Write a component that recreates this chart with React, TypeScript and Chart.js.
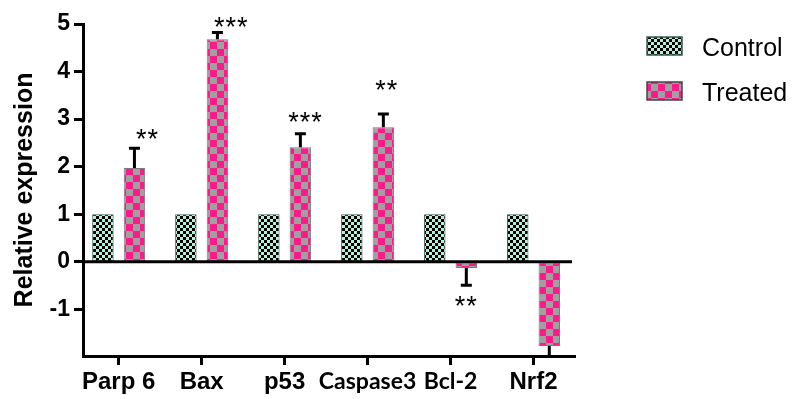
import React, { useEffect, useRef } from "react";
import { Chart, registerables } from "chart.js";

Chart.register(...registerables);

const categories = ["Parp 6", "Bax", "p53", "Caspase3", "Bcl-2", "Nrf2"];
const controlValues = [1, 1, 1, 1, 1, 1];
const treatedValues = [1.97, 4.68, 2.41, 2.83, -0.13, -1.77];
const treatedErrors = [0.42, 0.14, 0.28, 0.28, 0.36, 0.3];
const significance = ["**", "***", "***", "**", "**", ""];
const sigX = [0.34, 1.35, 2.245, 3.226, 4.184, 5];
const sigY = [2.72, 5.08, 3.07, 3.75, -0.78, 0];
const yTicks = [-1, 0, 1, 2, 3, 4, 5];
const legendLabels = ["Control", "Treated"];
const narrowLabels = ["Caspase3", "Bcl-2"];

function makePattern(cell: number, bg: string, fg: string): CanvasPattern {
  const c = document.createElement("canvas");
  c.width = cell * 2;
  c.height = cell * 2;
  const g = c.getContext("2d")!;
  g.fillStyle = bg;
  g.fillRect(0, 0, cell * 2, cell * 2);
  g.fillStyle = fg;
  g.fillRect(0, 0, cell, cell);
  g.fillRect(cell, cell, cell, cell);
  return g.createPattern(c, "repeat")!;
}

export default function App() {
  const ref = useRef<HTMLCanvasElement>(null);
  useEffect(() => {
    const canvas = ref.current!;
    const controlPattern = makePattern(3, "#b2f2dc", "#000000");
    const treatedPattern = makePattern(7, "#a0a0a0", "#ff1a8c");
    const controlBorder = "#3c5a4c";
    const treatedBorder = "#7a7a7a";

    const overlay = {
      id: "overlay",
      afterDatasetsDraw(chart: any) {
        const { ctx, chartArea } = chart;
        const xs = chart.scales.x;
        const ys = chart.scales.y;
        const meta = chart.getDatasetMeta(1);
        // zero line
        ctx.save();
        ctx.strokeStyle = "#000";
        ctx.lineWidth = 3;
        const y0 = ys.getPixelForValue(0);
        ctx.beginPath();
        ctx.moveTo(chartArea.left, y0);
        ctx.lineTo(chartArea.right - 3, y0);
        ctx.stroke();
        ctx.restore();
        // error bars
        ctx.save();
        ctx.beginPath();
        ctx.rect(chartArea.left, chartArea.top - 20, chartArea.right - chartArea.left, chartArea.bottom - chartArea.top + 20);
        ctx.clip();
        ctx.strokeStyle = "#000";
        ctx.lineWidth = 3;
        treatedValues.forEach((v, i) => {
          const bar = meta.data[i];
          const cx = bar.x;
          const end = v >= 0 ? v + treatedErrors[i] : v - treatedErrors[i];
          const p0 = ys.getPixelForValue(v);
          const p1 = ys.getPixelForValue(end);
          ctx.beginPath();
          ctx.moveTo(cx, p0);
          ctx.lineTo(cx, p1);
          ctx.moveTo(cx - 5.5, p1);
          ctx.lineTo(cx + 5.5, p1);
          ctx.stroke();
        });
        ctx.restore();
        // significance stars
        ctx.save();
        const size = 27;
        ctx.font = `${size}px "Liberation Sans"`;
        ctx.fillStyle = "#000";
        ctx.textAlign = "center";
        ctx.textBaseline = "alphabetic";
        significance.forEach((s, i) => {
          if (!s) return;
          const cx = xs.getPixelForValue(sigX[i]);
          const cy = ys.getPixelForValue(sigY[i]) + 0.58 * size;
          const n = s.length;
          for (let j = 0; j < n; j++) {
            ctx.fillText(s[j], cx + (j - (n - 1) / 2) * 11.5, cy);
          }
        });
        ctx.restore();
      },
      afterDraw(chart: any) {
        const { ctx } = chart;
        ctx.save();
        const items = [
          { label: legendLabels[0], fill: controlPattern, border: controlBorder, y: 37 },
          { label: legendLabels[1], fill: treatedPattern, border: "#444", y: 82 },
        ];
        ctx.font = `25px "Liberation Sans"`;
        ctx.textBaseline = "alphabetic";
        ctx.textAlign = "left";
        items.forEach((it) => {
          ctx.fillStyle = it.fill;
          ctx.fillRect(647, it.y, 35, 18);
          ctx.strokeStyle = it.border;
          ctx.lineWidth = 1.5;
          ctx.strokeRect(647, it.y, 35, 18);
          ctx.fillStyle = "#000";
          ctx.fillText(it.label, 702, it.y + 19);
        });
        ctx.restore();
      },
    };

    const chart = new Chart(canvas, {
      type: "bar",
      data: {
        datasets: [
          {
            label: legendLabels[0],
            data: controlValues.map((v, i) => ({ x: i, y: v })),
            backgroundColor: controlPattern,
            borderColor: controlBorder,
            borderWidth: 1,
            borderSkipped: false,
            categoryPercentage: 0.76,
            barPercentage: 0.68,
          },
          {
            label: legendLabels[1],
            data: treatedValues.map((v, i) => ({ x: i, y: v })),
            backgroundColor: treatedPattern,
            borderColor: treatedBorder,
            borderWidth: 1,
            borderSkipped: false,
            categoryPercentage: 0.76,
            barPercentage: 0.68,
          },
        ],
      },
      options: {
        responsive: false,
        animation: false,
        layout: { padding: { top: 24, right: 217, left: 0, bottom: 0 } },
        plugins: {
          legend: { display: false },
          tooltip: { enabled: false },
        },
        scales: {
          x: {
            type: "linear",
            min: -0.43,
            max: 5.5,
            offset: false,
            afterBuildTicks: (scale: any) => {
              scale.ticks = categories.map((_, i) => ({ value: i }));
            },
            afterFit: (scale: any) => {
              scale.height = 43;
            },
            grid: {
              display: true,
              drawOnChartArea: false,
              offset: false,
              tickLength: 9,
              tickWidth: 3,
              tickColor: "#000",
            },
            border: { display: true, color: "#000", width: 3 },
            ticks: {
              autoSkip: false,
              maxRotation: 0,
              color: "#000",
              padding: 3,
              callback: (v: any) => categories[Math.round(Number(v))] ?? "",
              font: (c: any) => {
                const lbl = categories[Math.round(Number(c.tick?.value ?? -1))];
                return narrowLabels.includes(lbl)
                  ? { family: "Lato", weight: "bold", size: 23 }
                  : { family: "Liberation Sans", weight: "bold", size: 24 };
              },
            },
          },
          y: {
            type: "linear",
            min: -1.98,
            max: 5,
            afterBuildTicks: (scale: any) => {
              scale.ticks = yTicks.map((v) => ({ value: v }));
            },
            afterFit: (scale: any) => {
              scale.width = 83;
            },
            grid: {
              display: true,
              drawOnChartArea: false,
              tickLength: 9,
              tickWidth: 3,
              tickColor: "#000",
            },
            border: { display: true, color: "#000", width: 3 },
            ticks: {
              color: "#000",
              padding: 4,
              font: { family: "Liberation Sans", weight: "bold", size: 23 },
            },
            title: {
              display: true,
              text: "Relative expression",
              color: "#000",
              padding: { top: 10, bottom: 0 },
              font: { family: "Liberation Sans", weight: "bold", size: 25 },
            },
          },
        },
      } as any,
      plugins: [overlay],
    });
    return () => chart.destroy();
  }, []);

  return (
    <div style={{ position: "absolute", left: 0, top: 0, width: 792, height: 399, background: "#fff" }}>
      <canvas ref={ref} width={792} height={399} />
    </div>
  );
}
